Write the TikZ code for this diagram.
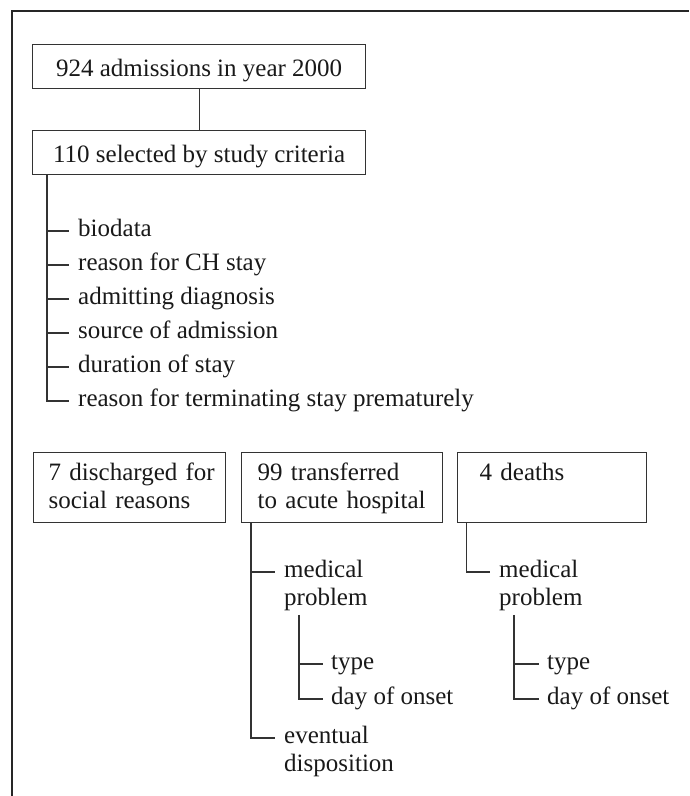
\documentclass[tikz,border=0pt]{standalone}
\usepackage{fontspec}
\setmainfont{Liberation Serif}
\usetikzlibrary{positioning, calc}
\newcommand{\chartfont}{\fontsize{25pt}{27.5pt}\selectfont}
\tikzset{
  txt/.style={font=\chartfont, text=black!90},
  frame/.style={line width=2.6pt, draw=black!85},
  topbox/.style={txt, draw=black!80, line width=1.3pt, anchor=north west,
                 minimum width=333pt, inner ysep=6pt,
                 text height=26pt, text depth=6pt},
  lowbox/.style={txt, draw=black!80, line width=1.3pt, anchor=north west,
                 align=left, inner ysep=6pt,
                 text height=22pt, text depth=36pt},
  item/.style={txt, anchor=mid west, inner xsep=9pt, inner ysep=0pt, align=left},
  twoline/.style={item, text width=130pt},
  subitem/.style={item, inner xsep=8pt},
  link/.style={line width=1.3pt, draw=black!80},
}

\begin{document}
\begin{tikzpicture}[x=1pt, y=-1pt, execute at begin picture={\chartfont}]
  \useasboundingbox (0,0) rectangle (689,796);

  % ---------- outer frame (only top and left edge show) ----------
  \draw[frame] (12,796) -- (12,11) -- (689,11);

  % ---------- admissions and selection ----------
  \node[topbox] (adm) at (32,44) {924 admissions in year 2000};
  \node[topbox] (sel) at (32,130) {110 selected by study criteria};
  \draw[link] (adm.south) -- (sel.north);

  % ---------- data collected for the selected cases ----------
  \coordinate (trunk) at ([xshift=15pt]sel.south west);
  \node[item] (bio)  at (69,231) {biodata};
  \node[item] (why)  at (69,265) {reason for CH stay};
  \node[item] (diag) at (69,299) {admitting diagnosis};
  \node[item] (src)  at (69,333) {source of admission};
  \node[item] (dur)  at (69,367) {duration of stay};
  \node[item] (term) at (69,401) {reason for terminating stay prematurely};
  \foreach \n in {bio, why, diag, src, dur}
    \draw[link] (trunk |- \n.mid west) -- (\n.mid west);
  \draw[link] (trunk) |- (term.mid west);

  % ---------- three outcomes ----------
  \node[lowbox, inner xsep=15pt, text width=162pt] (social) at (33,452)
    {\mbox{7 discharged for}\\ social reasons};
  \node[lowbox, inner xsep=16pt, text width=169pt] (xfer) at (241,452)
    {99 transferred\\ to acute hospital};
  \node[lowbox, inner xsep=22pt, text width=145pt] (death) at (457,452)
    {4 deaths};

  % ---------- transferred: medical problem and disposition ----------
  \coordinate (xtrunk) at ([xshift=10pt]xfer.south west);
  \node[twoline] (medB) at (275,572) {medical\\ problem};
  \node[twoline] (evB)  at (275,738) {eventual\\ disposition};
  \draw[link] (xtrunk |- medB.mid west) -- (medB.mid west);
  \draw[link] (xtrunk) |- (evB.mid west);

  \coordinate (subB) at ([xshift=24pt, yshift=-4pt]medB.south west);
  \node[subitem] (typeB) at (323,664) {type};
  \node[subitem] (dayB)  at (323,699) {day of onset};
  \draw[link] (subB |- typeB.mid west) -- (typeB.mid west);
  \draw[link] (subB) |- (dayB.mid west);

  % ---------- deaths: medical problem ----------
  \coordinate (dtrunk) at ([xshift=9.5pt]death.south west);
  \node[twoline] (medC) at (490,572) {medical\\ problem};
  \draw[link] (dtrunk) |- (medC.mid west);

  \coordinate (subC) at ([xshift=24pt, yshift=-4pt]medC.south west);
  \node[subitem] (typeC) at (539,664) {type};
  \node[subitem] (dayC)  at (539,699) {day of onset};
  \draw[link] (subC |- typeC.mid west) -- (typeC.mid west);
  \draw[link] (subC) |- (dayC.mid west);

\end{tikzpicture}
\end{document}
